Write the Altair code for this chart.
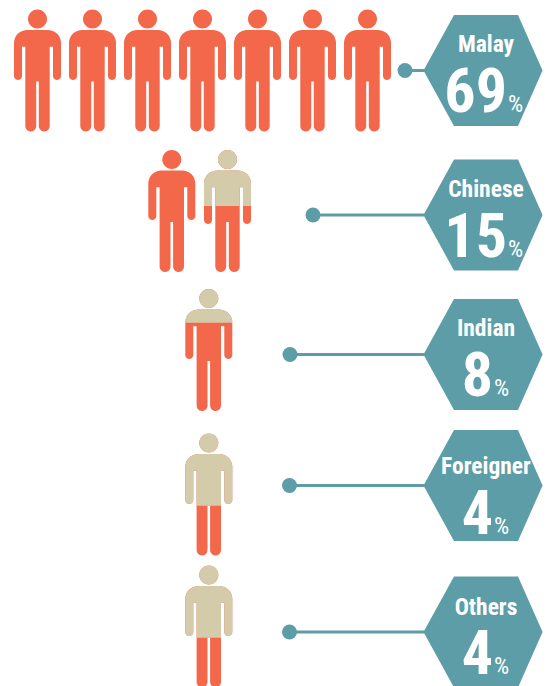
import math
import altair as alt
import pandas as pd

# ---- values ----
GROUPS = ["Malay", "Chinese", "Indian", "Foreigner", "Others"]
PERCENTS = [69, 15, 8, 4, 4]
PERSON_COUNT = [7, 2, 1, 1, 1]

# ---- layout, in reference pixels ----
PERSON_FIRST_X = [37.5, 171.8, 208.8, 208.8, 208.8]
PERSON_STEP = [55, 55.7, 0, 0, 0]
PERSON_TOP = [9.5, 150, 289, 433.5, 565.5]
# height below the head-top where the beige part stops (None = all orange), per person
BEIGE_CUT = [[None] * 7, [None, 56], [33.7], [72.2], [72.2]]
ARM_END = [[70.5] * 7, [70, 74], [70], [70.4], [70.4]]

HEX_Y = [70.5, 215, 354.5, 485.5, 632]
DOT_X = [405, 313, 290, 289.5, 289.5]
LABEL_BASE = [52, 197, 336, 474, 615]
NUM_BASE = [112, 257, 396, 534, 674]
NUM_SPLIT_X = [507, 507, 493, 493, 493]

ORANGE = "#F3674A"
BEIGE = "#D3CBAA"
TEAL = "#5D9DA7"
FONT = "Roboto Condensed"
UNIT = 61.0


def arc(cx, cy, r, a0, a1, n=10):
    return [(cx + r * math.cos(math.radians(a0 + (a1 - a0) * i / n)),
             cy + r * math.sin(math.radians(a0 + (a1 - a0) * i / n))) for i in range(n + 1)]


def outline(arm_end):
    R = 13.0
    top, pit, crotch, foot = 20.5, 37.2, 72.0, 122.0
    ao, ai, t, g = 23.5, 15.5, 12.2, 1.3
    ar = (ao - ai) / 2
    lr = (t - g) / 2
    p = []
    p += arc(ao - R, top + R, R, -90, 0)
    p += arc((ao + ai) / 2, arm_end - ar, ar, 0, 180)
    p += [(ai, pit), (t, pit)]
    p += arc((t + g) / 2, foot - lr, lr, 0, 180)
    p += [(g, crotch), (-g, crotch)]
    p += arc(-(t + g) / 2, foot - lr, lr, 0, 180)
    p += [(-t, pit), (-ai, pit)]
    p += arc(-(ao + ai) / 2, arm_end - ar, ar, 0, 180)
    p += arc(-ao + R, top + R, R, 180, 270)
    return p


def clip_above(poly, cut):
    out = []
    for i, a in enumerate(poly):
        b = poly[(i + 1) % len(poly)]
        if a[1] <= cut:
            out.append(a)
        if (a[1] <= cut) != (b[1] <= cut):
            f = (cut - a[1]) / (b[1] - a[1])
            out.append((a[0] + f * (b[0] - a[0]), cut))
    return out


def to_path(poly):
    pts = [f"{x / UNIT:.4f},{(y - UNIT) / UNIT:.4f}" for x, y in poly]
    return "M" + "L".join(pts) + "Z"


def person_path(arm_end, cut=None):
    body = outline(arm_end)
    if cut is not None:
        body = clip_above(body, cut)
    head = arc(0, 9.5, 9.5, 0, 360, 36)[:-1]
    return to_path(head) + to_path(body)


rows = []
for gi, g in enumerate(GROUPS):
    for k in range(PERSON_COUNT[gi]):
        rows.append({
            "group": g,
            "x": PERSON_FIRST_X[gi] + k * PERSON_STEP[gi],
            "y": PERSON_TOP[gi] + UNIT,
            "full": person_path(ARM_END[gi][k]),
            "beige": person_path(ARM_END[gi][k], BEIGE_CUT[gi][k]) if BEIGE_CUT[gi][k] is not None else None,
        })
people = pd.DataFrame(rows)
people_beige = people[people["beige"].notna()]

HEX_CX = 486
HEX_R = 62.5
# right tip pulled in slightly so that the whole shape stays inside the drawing area
HEX_PATH = "M-1,0L-0.512,-0.888L0.512,-0.888L0.905,0L0.512,0.888L-0.512,0.888Z"

info = pd.DataFrame({
    "group": GROUPS,
    "pct": [str(p) for p in PERCENTS],
    "hx": [HEX_CX] * 5,
    "hy": HEX_Y,
    "dot": DOT_X,
    "lab": LABEL_BASE,
    "num": NUM_BASE,
    "split": NUM_SPLIT_X,
    "mark": ["%"] * 5,
})


def xq(f):
    return alt.X(f + ":Q", axis=None, scale=alt.Scale(domain=[8, 543], nice=False, zero=False))


def yq(f):
    return alt.Y(f + ":Q", axis=None, scale=alt.Scale(domain=[686, 8], nice=False, zero=False))


size = (2 * UNIT) ** 2
orange = alt.Chart(people).mark_point(filled=True, opacity=1, strokeWidth=0, size=size, color=ORANGE).encode(
    x=xq("x"), y=yq("y"), shape=alt.Shape("full:N", scale=None, legend=None))
beige = alt.Chart(people_beige).mark_point(filled=True, opacity=1, strokeWidth=0, size=size, color=BEIGE).encode(
    x=xq("x"), y=yq("y"), shape=alt.Shape("beige:N", scale=None, legend=None))

line = alt.Chart(info).mark_rule(color=TEAL, strokeWidth=3).encode(
    x=xq("dot"), x2="hx:Q", y=yq("hy"))
dot = alt.Chart(info).mark_point(filled=True, opacity=1, strokeWidth=0, color=TEAL, shape="circle", size=225).encode(
    x=xq("dot"), y=yq("hy"))
hexes = alt.Chart(info).mark_point(filled=True, opacity=1, strokeWidth=0, color=TEAL, shape=HEX_PATH,
                                   size=(2 * HEX_R) ** 2).encode(x=xq("hx"), y=yq("hy"))

label = alt.Chart(info).mark_text(font=FONT, fontWeight="bold", fontSize=23.5, color="white",
                                  align="center", baseline="alphabetic").encode(
    x=xq("hx"), y=yq("lab"), text="group:N")
number = alt.Chart(info).mark_text(font=FONT, fontWeight="bold", fontSize=62, color="white",
                                   align="right", baseline="alphabetic").encode(
    x=xq("split"), y=yq("num"), text="pct:N")
pct = alt.Chart(info).mark_text(font=FONT, fontWeight="normal", fontSize=24, color="white",
                                align="left", baseline="alphabetic", dx=1).encode(
    x=xq("split"), y=yq("num"), text="mark:N")

chart = alt.layer(orange, beige, line, dot, hexes, label, number, pct).properties(
    width=535, height=678, padding=0, autosize=alt.AutoSizeParams(type="none"), background="white"
).configure_view(stroke=None)

chart.save("out.html", embed_options={"renderer": "svg", "actions": False})
